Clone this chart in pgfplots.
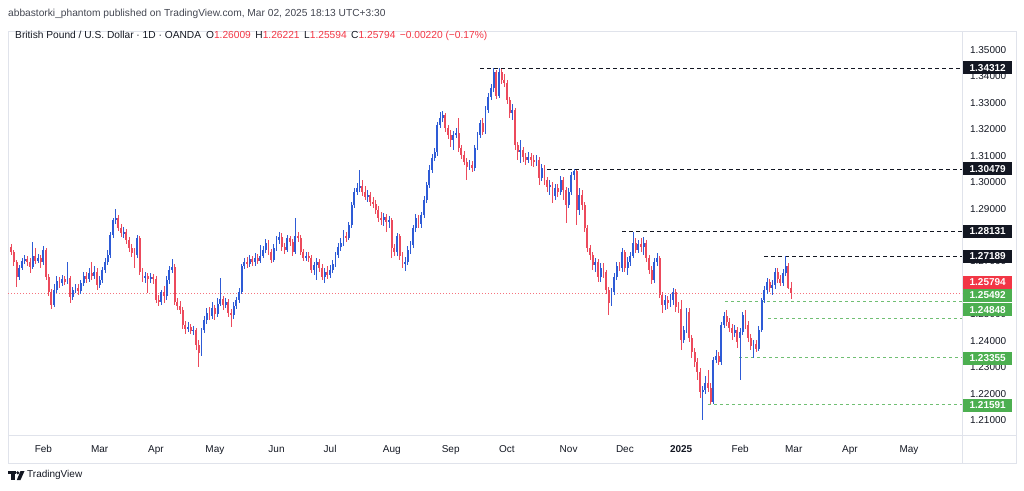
\documentclass[border=0pt]{standalone}
\usepackage{fontspec}
\setmainfont{Liberation Sans}
\usepackage{pgfplots}
\usepackage{pgfplotstable}
\pgfplotsset{compat=1.18}

\definecolor{tvblue}{HTML}{2E5BD6}
\definecolor{tvred}{HTML}{EC4A5C}
\definecolor{lblred}{HTML}{F23645}
\definecolor{lblgreen}{HTML}{4CAF50}
\definecolor{tvtext}{HTML}{131722}
\definecolor{tvgray}{HTML}{434651}
\definecolor{framegray}{HTML}{E0E3EB}

% GBP/USD daily, i = trading day (0 = 1 Feb 2024)
\pgfplotstableread{
i o h l c
-12 1.2755 1.2766 1.2724 1.2736
-11 1.2736 1.2743 1.2683 1.2698
-10 1.2698 1.2705 1.2603 1.2641
-9 1.2641 1.2687 1.2630 1.2675
-8 1.2675 1.2713 1.2668 1.2702
-7 1.2702 1.2724 1.2690 1.2709
-6 1.2709 1.2721 1.2683 1.2698
-5 1.2698 1.2713 1.2656 1.2679
-4 1.2679 1.2773 1.2671 1.2721
-3 1.2721 1.2751 1.2690 1.2702
-2 1.2702 1.2728 1.2694 1.2713
-1 1.2713 1.2724 1.2675 1.2698
0 1.2698 1.2758 1.2687 1.2743
1 1.2743 1.2751 1.2630 1.2641
2 1.2641 1.2652 1.2569 1.2584
3 1.2584 1.2596 1.2520 1.2535
4 1.2535 1.2615 1.2528 1.2592
5 1.2592 1.2645 1.2580 1.2626
6 1.2626 1.2641 1.2599 1.2618
7 1.2618 1.2649 1.2607 1.2634
8 1.2634 1.2645 1.2611 1.2622
9 1.2622 1.2698 1.2615 1.2637
10 1.2637 1.2645 1.2543 1.2565
11 1.2565 1.2603 1.2554 1.2592
12 1.2592 1.2615 1.2580 1.2599
13 1.2599 1.2615 1.2573 1.2588
14 1.2588 1.2630 1.2577 1.2618
15 1.2618 1.2660 1.2607 1.2645
16 1.2645 1.2660 1.2618 1.2634
17 1.2634 1.2675 1.2622 1.2656
18 1.2656 1.2698 1.2630 1.2645
19 1.2645 1.2683 1.2634 1.2660
20 1.2660 1.2675 1.2592 1.2611
21 1.2611 1.2645 1.2599 1.2630
22 1.2630 1.2679 1.2618 1.2668
23 1.2668 1.2713 1.2656 1.2698
24 1.2698 1.2743 1.2687 1.2724
25 1.2724 1.2811 1.2713 1.2800
26 1.2800 1.2864 1.2789 1.2857
27 1.2857 1.2898 1.2842 1.2864
28 1.2864 1.2876 1.2815 1.2827
29 1.2827 1.2842 1.2792 1.2808
30 1.2808 1.2830 1.2789 1.2811
31 1.2811 1.2823 1.2766 1.2781
32 1.2781 1.2792 1.2736 1.2751
33 1.2751 1.2766 1.2717 1.2732
34 1.2732 1.2751 1.2675 1.2724
35 1.2724 1.2800 1.2713 1.2789
36 1.2789 1.2796 1.2649 1.2660
37 1.2660 1.2675 1.2622 1.2637
38 1.2637 1.2660 1.2618 1.2645
39 1.2645 1.2656 1.2580 1.2634
40 1.2634 1.2656 1.2618 1.2641
41 1.2641 1.2652 1.2615 1.2634
42 1.2634 1.2645 1.2543 1.2554
43 1.2554 1.2573 1.2531 1.2546
44 1.2546 1.2592 1.2535 1.2584
45 1.2584 1.2607 1.2543 1.2569
46 1.2569 1.2645 1.2554 1.2630
47 1.2630 1.2683 1.2615 1.2668
48 1.2668 1.2709 1.2656 1.2679
49 1.2679 1.2690 1.2535 1.2546
50 1.2546 1.2562 1.2516 1.2531
51 1.2531 1.2550 1.2501 1.2516
52 1.2516 1.2528 1.2444 1.2459
53 1.2459 1.2475 1.2425 1.2444
54 1.2444 1.2471 1.2433 1.2452
55 1.2452 1.2463 1.2425 1.2437
56 1.2437 1.2456 1.2422 1.2441
57 1.2441 1.2448 1.2365 1.2384
58 1.2384 1.2403 1.2300 1.2353
59 1.2353 1.2448 1.2342 1.2441
60 1.2441 1.2494 1.2429 1.2478
61 1.2478 1.2524 1.2463 1.2505
62 1.2505 1.2528 1.2478 1.2494
63 1.2494 1.2546 1.2482 1.2524
64 1.2524 1.2535 1.2478 1.2501
65 1.2501 1.2562 1.2490 1.2539
66 1.2539 1.2637 1.2531 1.2558
67 1.2558 1.2569 1.2516 1.2535
68 1.2535 1.2562 1.2524 1.2546
69 1.2546 1.2558 1.2490 1.2505
70 1.2505 1.2520 1.2452 1.2497
71 1.2497 1.2546 1.2482 1.2531
72 1.2531 1.2565 1.2520 1.2554
73 1.2554 1.2599 1.2543 1.2584
74 1.2584 1.2690 1.2577 1.2683
75 1.2683 1.2713 1.2671 1.2698
76 1.2698 1.2717 1.2675 1.2690
77 1.2690 1.2724 1.2679 1.2709
78 1.2709 1.2721 1.2683 1.2698
79 1.2698 1.2732 1.2683 1.2713
80 1.2713 1.2728 1.2690 1.2702
81 1.2702 1.2762 1.2694 1.2721
82 1.2721 1.2758 1.2713 1.2743
83 1.2743 1.2785 1.2732 1.2770
84 1.2770 1.2781 1.2724 1.2736
85 1.2736 1.2747 1.2694 1.2705
86 1.2705 1.2766 1.2698 1.2751
87 1.2751 1.2796 1.2739 1.2781
88 1.2781 1.2811 1.2766 1.2792
89 1.2792 1.2808 1.2739 1.2755
90 1.2755 1.2770 1.2728 1.2743
91 1.2743 1.2800 1.2736 1.2789
92 1.2789 1.2796 1.2758 1.2773
93 1.2773 1.2785 1.2721 1.2736
94 1.2736 1.2864 1.2728 1.2796
95 1.2796 1.2811 1.2773 1.2789
96 1.2789 1.2800 1.2724 1.2736
97 1.2736 1.2747 1.2702 1.2713
98 1.2713 1.2736 1.2702 1.2721
99 1.2721 1.2736 1.2698 1.2713
100 1.2713 1.2724 1.2656 1.2668
101 1.2668 1.2698 1.2649 1.2687
102 1.2687 1.2713 1.2630 1.2698
103 1.2698 1.2709 1.2660 1.2675
104 1.2675 1.2690 1.2630 1.2641
105 1.2641 1.2675 1.2618 1.2660
106 1.2660 1.2683 1.2634 1.2649
107 1.2649 1.2687 1.2637 1.2668
108 1.2668 1.2705 1.2656 1.2690
109 1.2690 1.2736 1.2679 1.2724
110 1.2724 1.2770 1.2713 1.2755
111 1.2755 1.2789 1.2739 1.2770
112 1.2770 1.2819 1.2758 1.2796
113 1.2796 1.2811 1.2773 1.2789
114 1.2789 1.2849 1.2781 1.2838
115 1.2838 1.2925 1.2827 1.2914
116 1.2914 1.2978 1.2902 1.2963
117 1.2963 1.2997 1.2951 1.2978
118 1.2978 1.3046 1.2963 1.2985
119 1.2985 1.3008 1.2948 1.2963
120 1.2963 1.2985 1.2932 1.2944
121 1.2944 1.2970 1.2925 1.2951
122 1.2951 1.2963 1.2910 1.2925
123 1.2925 1.2944 1.2902 1.2917
124 1.2917 1.2932 1.2880 1.2895
125 1.2895 1.2910 1.2849 1.2864
126 1.2864 1.2887 1.2838 1.2857
127 1.2857 1.2883 1.2834 1.2868
128 1.2868 1.2880 1.2811 1.2849
129 1.2849 1.2872 1.2827 1.2857
130 1.2857 1.2864 1.2713 1.2751
131 1.2751 1.2766 1.2721 1.2736
132 1.2736 1.2808 1.2721 1.2796
133 1.2796 1.2804 1.2705 1.2721
134 1.2721 1.2736 1.2675 1.2694
135 1.2694 1.2717 1.2664 1.2698
136 1.2698 1.2758 1.2687 1.2743
137 1.2743 1.2777 1.2728 1.2762
138 1.2762 1.2838 1.2751 1.2827
139 1.2827 1.2880 1.2811 1.2864
140 1.2864 1.2876 1.2827 1.2842
141 1.2842 1.2887 1.2827 1.2876
142 1.2876 1.2948 1.2864 1.2932
143 1.2932 1.3001 1.2921 1.2989
144 1.2989 1.3065 1.2978 1.3046
145 1.3046 1.3106 1.3035 1.3091
146 1.3091 1.3129 1.3080 1.3114
147 1.3114 1.3228 1.3099 1.3216
148 1.3216 1.3265 1.3205 1.3243
149 1.3243 1.3269 1.3228 1.3254
150 1.3254 1.3262 1.3190 1.3205
151 1.3205 1.3216 1.3163 1.3178
152 1.3178 1.3197 1.3133 1.3159
153 1.3159 1.3194 1.3122 1.3178
154 1.3178 1.3205 1.3167 1.3186
155 1.3186 1.3243 1.3114 1.3129
156 1.3129 1.3141 1.3088 1.3103
157 1.3103 1.3118 1.3065 1.3076
158 1.3076 1.3091 1.3008 1.3057
159 1.3057 1.3084 1.3046 1.3065
160 1.3065 1.3080 1.3038 1.3054
161 1.3054 1.3141 1.3042 1.3129
162 1.3129 1.3190 1.3122 1.3178
163 1.3178 1.3235 1.3167 1.3224
164 1.3224 1.3243 1.3178 1.3190
165 1.3190 1.3288 1.3182 1.3273
166 1.3273 1.3337 1.3262 1.3322
167 1.3322 1.3371 1.3311 1.3356
168 1.3356 1.3432 1.3341 1.3417
169 1.3417 1.3424 1.3315 1.3326
170 1.3326 1.3431 1.3318 1.3417
171 1.3417 1.3429 1.3371 1.3386
172 1.3386 1.3409 1.3360 1.3375
173 1.3375 1.3386 1.3296 1.3311
174 1.3311 1.3322 1.3243 1.3262
175 1.3262 1.3296 1.3235 1.3273
176 1.3273 1.3281 1.3122 1.3141
177 1.3141 1.3152 1.3084 1.3114
178 1.3114 1.3159 1.3072 1.3122
179 1.3122 1.3133 1.3076 1.3095
180 1.3095 1.3110 1.3065 1.3084
181 1.3084 1.3114 1.3072 1.3095
182 1.3095 1.3110 1.3061 1.3084
183 1.3084 1.3103 1.3057 1.3076
184 1.3076 1.3103 1.3061 1.3084
185 1.3084 1.3095 1.2989 1.3016
186 1.3016 1.3069 1.3004 1.3054
187 1.3054 1.3065 1.2989 1.3008
188 1.3008 1.3020 1.2963 1.2982
189 1.2982 1.3008 1.2951 1.2989
190 1.2989 1.3001 1.2921 1.2948
191 1.2948 1.2993 1.2932 1.2978
192 1.2978 1.2993 1.2944 1.2963
193 1.2963 1.3023 1.2951 1.3008
194 1.3008 1.3020 1.2932 1.2970
195 1.2970 1.2982 1.2845 1.2914
196 1.2914 1.2978 1.2902 1.2963
197 1.2963 1.3038 1.2951 1.3027
198 1.3027 1.3048 1.3008 1.3042
199 1.3042 1.3046 1.2838 1.2895
200 1.2895 1.2978 1.2876 1.2951
201 1.2951 1.2970 1.2895 1.2914
202 1.2914 1.2925 1.2811 1.2827
203 1.2827 1.2838 1.2736 1.2751
204 1.2751 1.2762 1.2705 1.2724
205 1.2724 1.2736 1.2668 1.2687
206 1.2687 1.2713 1.2660 1.2698
207 1.2698 1.2709 1.2622 1.2641
208 1.2641 1.2694 1.2622 1.2675
209 1.2675 1.2694 1.2637 1.2660
210 1.2660 1.2668 1.2577 1.2592
211 1.2592 1.2603 1.2497 1.2543
212 1.2543 1.2599 1.2531 1.2584
213 1.2584 1.2656 1.2573 1.2641
214 1.2641 1.2698 1.2630 1.2683
215 1.2683 1.2698 1.2664 1.2675
216 1.2675 1.2751 1.2660 1.2736
217 1.2736 1.2743 1.2660 1.2675
218 1.2675 1.2717 1.2649 1.2698
219 1.2698 1.2736 1.2683 1.2721
220 1.2721 1.2813 1.2713 1.2770
221 1.2770 1.2789 1.2732 1.2743
222 1.2743 1.2781 1.2732 1.2766
223 1.2766 1.2789 1.2736 1.2755
224 1.2755 1.2792 1.2724 1.2770
225 1.2770 1.2781 1.2698 1.2713
226 1.2713 1.2724 1.2652 1.2668
227 1.2668 1.2683 1.2615 1.2630
228 1.2630 1.2713 1.2618 1.2698
229 1.2698 1.2732 1.2683 1.2713
230 1.2713 1.2721 1.2562 1.2573
231 1.2573 1.2584 1.2505 1.2535
232 1.2535 1.2573 1.2516 1.2554
233 1.2554 1.2569 1.2520 1.2543
234 1.2543 1.2577 1.2528 1.2554
235 1.2554 1.2599 1.2535 1.2584
236 1.2584 1.2596 1.2509 1.2528
237 1.2528 1.2546 1.2505 1.2520
238 1.2520 1.2554 1.2365 1.2403
239 1.2403 1.2456 1.2391 1.2441
240 1.2441 1.2524 1.2429 1.2509
241 1.2509 1.2524 1.2395 1.2410
242 1.2410 1.2422 1.2335 1.2357
243 1.2357 1.2372 1.2300 1.2319
244 1.2319 1.2335 1.2251 1.2282
245 1.2282 1.2297 1.2183 1.2206
246 1.2206 1.2229 1.2100 1.2213
247 1.2213 1.2266 1.2198 1.2240
248 1.2240 1.2289 1.2206 1.2221
249 1.2221 1.2240 1.2159 1.2168
250 1.2168 1.2338 1.2160 1.2327
251 1.2327 1.2365 1.2316 1.2342
252 1.2342 1.2357 1.2308 1.2319
253 1.2319 1.2471 1.2308 1.2459
254 1.2459 1.2509 1.2448 1.2494
255 1.2494 1.2516 1.2456 1.2471
256 1.2471 1.2486 1.2433 1.2448
257 1.2448 1.2463 1.2403 1.2429
258 1.2429 1.2459 1.2414 1.2441
259 1.2441 1.2452 1.2372 1.2395
260 1.2410 1.2448 1.2251 1.2433
261 1.2433 1.2509 1.2422 1.2497
262 1.2497 1.2516 1.2444 1.2459
263 1.2459 1.2475 1.2395 1.2410
264 1.2410 1.2425 1.2365 1.2380
265 1.2380 1.2403 1.2335 1.2388
266 1.2388 1.2403 1.2357 1.2369
267 1.2369 1.2456 1.2361 1.2441
268 1.2441 1.2562 1.2433 1.2554
269 1.2554 1.2607 1.2543 1.2592
270 1.2592 1.2637 1.2577 1.2622
271 1.2622 1.2634 1.2584 1.2599
272 1.2599 1.2630 1.2573 1.2611
273 1.2611 1.2675 1.2596 1.2660
274 1.2660 1.2675 1.2618 1.2634
275 1.2634 1.2649 1.2607 1.2618
276 1.2618 1.2671 1.2607 1.2656
277 1.2656 1.2719 1.2645 1.2683
278 1.2683 1.2694 1.2596 1.2601
279 1.26009 1.26221 1.25594 1.25794
}\gbpusd

\newcommand{\tvfont}{\fontsize{10}{12}\selectfont}

\begin{document}
\begin{tikzpicture}[x=1pt,y=1pt]
\useasboundingbox (0,0) rectangle (1024,490);

% chart frame
\draw[framegray, line width=0.7pt] (8,459) rectangle (1016,27);
\draw[framegray, line width=0.7pt] (962,459) -- (962,27);
\draw[framegray, line width=0.7pt] (8,55) -- (1016,55);

\begin{axis}[
  at={(8pt,55pt)}, anchor=south west,
  scale only axis, width=954pt, height=404pt,
  xmin=-13.2, xmax=342.8,
  ymin=1.20432, ymax=1.35719,
  axis line style={draw=none},
  major tick style={draw=none},
  /pgf/number format/assume math mode=true,
  ytick={1.21,1.22,1.23,1.24,1.25,1.26,1.27,1.28,1.29,1.30,1.31,1.32,1.33,1.34,1.35},
  yticklabel pos=right,
  yticklabel={\pgfmathprintnumber[fixed,fixed zerofill,precision=5]{\tick}},
  yticklabel style={anchor=west, xshift=4.5pt, font=\tvfont, text=tvtext},
  xtick={0,21,42,64,87,107,130,152,173,196,217,238,260,280,301,323},
  xticklabels={Feb,Mar,Apr,May,Jun,Jul,Aug,Sep,Oct,Nov,Dec,\textbf{2025},Feb,Mar,Apr,May},
  xticklabel style={font=\tvfont, text=tvtext, yshift=-7pt},
]

% price levels
\addplot[tvtext, line width=0.7pt, dash pattern=on 4pt off 3pt] coordinates {(163,1.34312) (342.8,1.34312)};
\addplot[tvtext, line width=0.7pt, dash pattern=on 4pt off 3pt] coordinates {(188,1.30479) (342.8,1.30479)};
\addplot[tvtext, line width=0.7pt, dash pattern=on 4pt off 3pt] coordinates {(216,1.28131) (342.8,1.28131)};
\addplot[tvtext, line width=0.7pt, dash pattern=on 4pt off 3pt] coordinates {(269,1.27189) (342.8,1.27189)};
\addplot[lblgreen!80, line width=0.7pt, dash pattern=on 3pt off 3pt] coordinates {(254.5,1.25492) (342.8,1.25492)};
\addplot[lblgreen!80, line width=0.7pt, dash pattern=on 3pt off 3pt] coordinates {(270.5,1.24848) (342.8,1.24848)};
\addplot[lblgreen!80, line width=0.7pt, dash pattern=on 3pt off 3pt] coordinates {(259.7,1.23355) (342.8,1.23355)};
\addplot[lblgreen!80, line width=0.7pt, dash pattern=on 3pt off 3pt] coordinates {(248,1.21591) (342.8,1.21591)};
\addplot[lblred!70, line width=0.6pt, dash pattern=on 1pt off 2pt] coordinates {(-13.2,1.25794) (342.8,1.25794)};

% rising candles: wick, then body
\addplot[draw=none, mark=none, restrict expr to domain={\thisrow{c}-\thisrow{o}}{0:1},
  error bars/.cd, y dir=both, y explicit, error mark=none,
  error bar style={line width=0.8pt, draw=tvblue}]
  table[x=i, y expr={(\thisrow{h}+\thisrow{l})/2}, y error expr={(\thisrow{h}-\thisrow{l})/2}] {\gbpusd};
\addplot[draw=none, mark=none, restrict expr to domain={\thisrow{c}-\thisrow{o}}{0:1},
  error bars/.cd, y dir=both, y explicit, error mark=none,
  error bar style={line width=1.9pt, draw=tvblue}]
  table[x=i, y expr={(\thisrow{o}+\thisrow{c})/2}, y error expr={abs(\thisrow{c}-\thisrow{o})/2}] {\gbpusd};
% falling candles
\addplot[draw=none, mark=none, restrict expr to domain={\thisrow{c}-\thisrow{o}}{-1:-0.00000001},
  error bars/.cd, y dir=both, y explicit, error mark=none,
  error bar style={line width=0.8pt, draw=tvred}]
  table[x=i, y expr={(\thisrow{h}+\thisrow{l})/2}, y error expr={(\thisrow{h}-\thisrow{l})/2}] {\gbpusd};
\addplot[draw=none, mark=none, restrict expr to domain={\thisrow{c}-\thisrow{o}}{-1:-0.00000001},
  error bars/.cd, y dir=both, y explicit, error mark=none,
  error bar style={line width=1.9pt, draw=tvred}]
  table[x=i, y expr={(\thisrow{o}+\thisrow{c})/2}, y error expr={abs(\thisrow{c}-\thisrow{o})/2}] {\gbpusd};
\end{axis}

% price scale labels
\tikzset{lbl/.style={anchor=west, minimum width=49pt, minimum height=13pt, inner sep=0pt,
  text=white, font=\tvfont\bfseries}}
\node[lbl, fill=tvtext] at (963,422) {1.34312};
\node[lbl, fill=tvtext] at (963,321) {1.30479};
\node[lbl, fill=tvtext] at (963,258.5) {1.28131};
\node[lbl, fill=tvtext] at (963,233.5) {1.27189};
\node[lbl, fill=lblred] at (963,207.5) {1.25794};
\node[lbl, fill=lblgreen] at (963,194.5) {1.25492};
\node[lbl, fill=lblgreen] at (963,180) {1.24848};
\node[lbl, fill=lblgreen] at (963,132) {1.23355};
\node[lbl, fill=lblgreen] at (963,85) {1.21591};

% header and legend
\node[anchor=west, inner sep=0pt, font=\fontsize{10.2}{12}\selectfont, text=tvgray] at (8,476.5)
  {abbastorki\_phantom published on TradingView.com, Mar 02, 2025 18:13 UTC+3:30};
\node[anchor=west, inner sep=0pt, font=\fontsize{10.2}{12}\selectfont, text=tvtext] at (15,454)
  {British Pound / U.S. Dollar · 1D · OANDA\hspace{5pt}O\textcolor{lblred}{1.26009}\hspace{4.5pt}H\textcolor{lblred}{1.26221}\hspace{4.5pt}L\textcolor{lblred}{1.25594}\hspace{4.5pt}C\textcolor{lblred}{1.25794}\hspace{4.5pt}\textcolor{lblred}{−0.00220 (−0.17\%)}};

% footer logo
\fill[tvtext] (8,19) rectangle (15.5,16);
\fill[tvtext] (11,19) rectangle (14.5,10);
\fill[tvtext] (17.8,17.2) circle (1.7);
\fill[tvtext] (20.5,19) -- (24.5,19) -- (20.5,10) -- (16.8,10) -- cycle;
\node[anchor=west, inner sep=0pt, font=\fontsize{10}{12}\selectfont, text=tvtext] at (27,15) {TradingView};
\end{tikzpicture}
\end{document}
